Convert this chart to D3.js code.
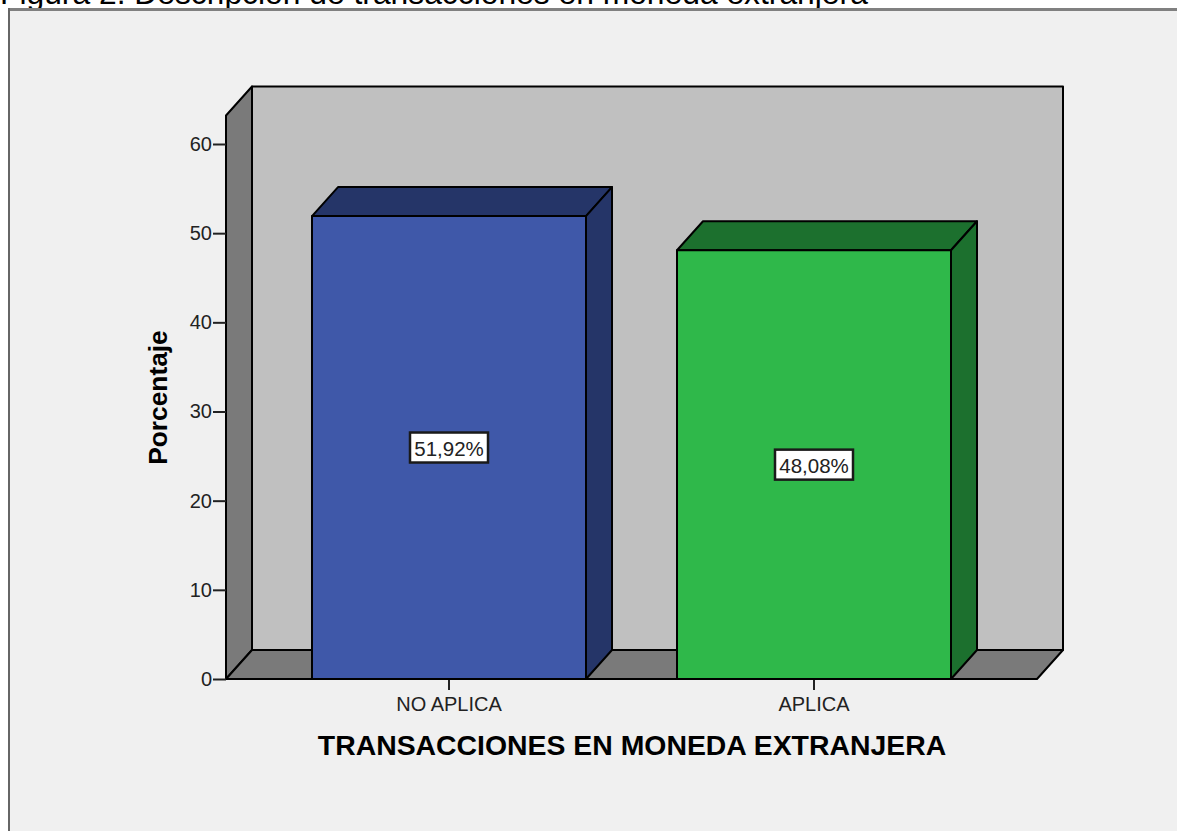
<!DOCTYPE html>
<html>
<head>
<meta charset="utf-8">
<title>Figura 2</title>
<script src="https://cdn.jsdelivr.net/npm/d3@7"></script>
<style>
    html, body { margin: 0; padding: 0; background: #fff; overflow: hidden; }
    svg { display: block; }
    text { font-family: "Liberation Sans", Arial, sans-serif; }
</style>
</head>
<body>
<svg id="chart" width="1177" height="831"></svg>
<script>
// chart data
const figureTitle = "Figura 2. Descripción de transacciones en moneda extranjera";
const categories = ["NO APLICA", "APLICA"];
const percentages = [51.92, 48.08];
const valueLabels = ["51,92%", "48,08%"];
const yTicks = [0, 10, 20, 30, 40, 50, 60];
const yAxisTop = 63.2;
const yTitle = "Porcentaje";
const xTitle = "TRANSACCIONES EN MONEDA EXTRANJERA";

const frontColors = ["#3f58a9", "#2fb84a"];
const shadeColors = ["#253568", "#1c702e"];

const width = 1177, height = 831;
// offset of the back wall from the front of the plot
const depthX = 26, depthY = -29;

const svg = d3.select("#chart");

const x = d3.scaleBand()
    .domain(categories)
    .range([226, 1037])
    .paddingInner(91 / 365)
    .paddingOuter(86 / 365);

const y = d3.scaleLinear()
    .domain([0, 60])
    .range([679, 144]);

const line = d3.line();
const poly = (pts) => line(pts) + "Z";

// white page with the grey output window below the title
svg.append("rect").attr("width", width).attr("height", height).attr("fill", "#fff");
svg.append("text")
    .attr("x", 0)
    .attr("y", 4)
    .attr("font-size", 31.8)
    .attr("fill", "#000")
    .text(figureTitle);
svg.append("rect")
    .attr("x", 0).attr("y", 8).attr("width", width).attr("height", height)
    .attr("fill", "#f0f0f0");
svg.append("line")
    .attr("x1", 9).attr("x2", width).attr("y1", 9.5).attr("y2", 9.5)
    .attr("stroke", "#808080").attr("stroke-width", 3);
svg.append("line")
    .attr("x1", 9).attr("x2", 9).attr("y1", 8).attr("y2", height)
    .attr("stroke", "#666").attr("stroke-width", 2);
svg.append("rect")
    .attr("x", 0).attr("y", 8).attr("width", 8).attr("height", height)
    .attr("fill", "#fff");

// 3D box: back wall, left wall, floor
const x0 = x.range()[0], x1 = x.range()[1];
const yBase = y(0), yTop = y(yAxisTop);

const box = svg.append("g")
    .attr("stroke", "#000")
    .attr("stroke-width", 2)
    .attr("stroke-linejoin", "round");

box.append("path")
    .attr("d", poly([[x0 + depthX, yBase + depthY], [x0 + depthX, yTop + depthY], [x1 + depthX, yTop + depthY], [x1 + depthX, yBase + depthY]]))
    .attr("fill", "#c0c0c0");
box.append("path")
    .attr("d", poly([[x0, yBase], [x0, yTop], [x0 + depthX, yTop + depthY], [x0 + depthX, yBase + depthY]]))
    .attr("fill", "#7a7a7a");
box.append("path")
    .attr("d", poly([[x0, yBase], [x0 + depthX, yBase + depthY], [x1 + depthX, yBase + depthY], [x1, yBase]]))
    .attr("fill", "#7a7a7a");

// bars
const bars = svg.append("g")
    .selectAll("g")
    .data(categories)
    .enter()
    .append("g")
    .attr("stroke", "#000")
    .attr("stroke-width", 2)
    .attr("stroke-linejoin", "round");

bars.append("path")
    .attr("d", (d, i) => {
        let l = x(d), r = l + x.bandwidth(), t = y(percentages[i]);
        return poly([[l, t], [l + depthX, t + depthY], [r + depthX, t + depthY], [r, t]]);
    })
    .attr("fill", (d, i) => shadeColors[i]);
bars.append("path")
    .attr("d", (d, i) => {
        let r = x(d) + x.bandwidth(), t = y(percentages[i]);
        return poly([[r, t], [r + depthX, t + depthY], [r + depthX, yBase + depthY], [r, yBase]]);
    })
    .attr("fill", (d, i) => shadeColors[i]);
bars.append("rect")
    .attr("x", (d) => x(d))
    .attr("y", (d, i) => y(percentages[i]))
    .attr("width", x.bandwidth())
    .attr("height", (d, i) => yBase - y(percentages[i]))
    .attr("fill", (d, i) => frontColors[i]);

// value labels in the middle of each bar
const labels = svg.append("g")
    .selectAll("g")
    .data(categories)
    .enter()
    .append("g")
    .attr("transform", (d, i) => "translate(" + (x(d) + x.bandwidth() / 2) + "," + y(percentages[i] / 2) + ")");

labels.append("rect")
    .attr("x", -39).attr("y", -15)
    .attr("width", 78).attr("height", 30)
    .attr("fill", "#fff")
    .attr("stroke", "#1a1a1a")
    .attr("stroke-width", 2.5);
labels.append("text")
    .attr("text-anchor", "middle")
    .attr("y", 8)
    .attr("font-size", 20.5)
    .attr("fill", "#222")
    .text((d, i) => valueLabels[i]);

// axes
const yAxis = svg.append("g")
    .attr("transform", "translate(" + x0 + ",0)")
    .call(d3.axisLeft(y).tickValues(yTicks).tickSize(13).tickPadding(1));
const xAxis = svg.append("g")
    .attr("transform", "translate(0," + yBase + ")")
    .call(d3.axisBottom(x).tickSize(11).tickPadding(7));

yAxis.select(".domain").remove();
xAxis.select(".domain").remove();
svg.append("line")
    .attr("x1", x0).attr("x2", x1).attr("y1", yBase).attr("y2", yBase)
    .attr("stroke", "#000").attr("stroke-width", 2);

[yAxis, xAxis].forEach((a) => {
    a.selectAll(".tick line").attr("stroke", "#222").attr("stroke-width", 2);
    a.selectAll(".tick text")
        .attr("font-family", "Liberation Sans, Arial, sans-serif")
        .attr("font-size", 20)
        .attr("fill", "#222");
});

// axis titles
svg.append("text")
    .attr("transform", "translate(167,397.5) rotate(-90)")
    .attr("text-anchor", "middle")
    .attr("font-size", 26.3)
    .attr("font-weight", "bold")
    .attr("fill", "#000")
    .text(yTitle);
svg.append("text")
    .attr("x", 632)
    .attr("y", 755)
    .attr("text-anchor", "middle")
    .attr("font-size", 28.4)
    .attr("font-weight", "bold")
    .attr("fill", "#000")
    .text(xTitle);
</script>
</body>
</html>
